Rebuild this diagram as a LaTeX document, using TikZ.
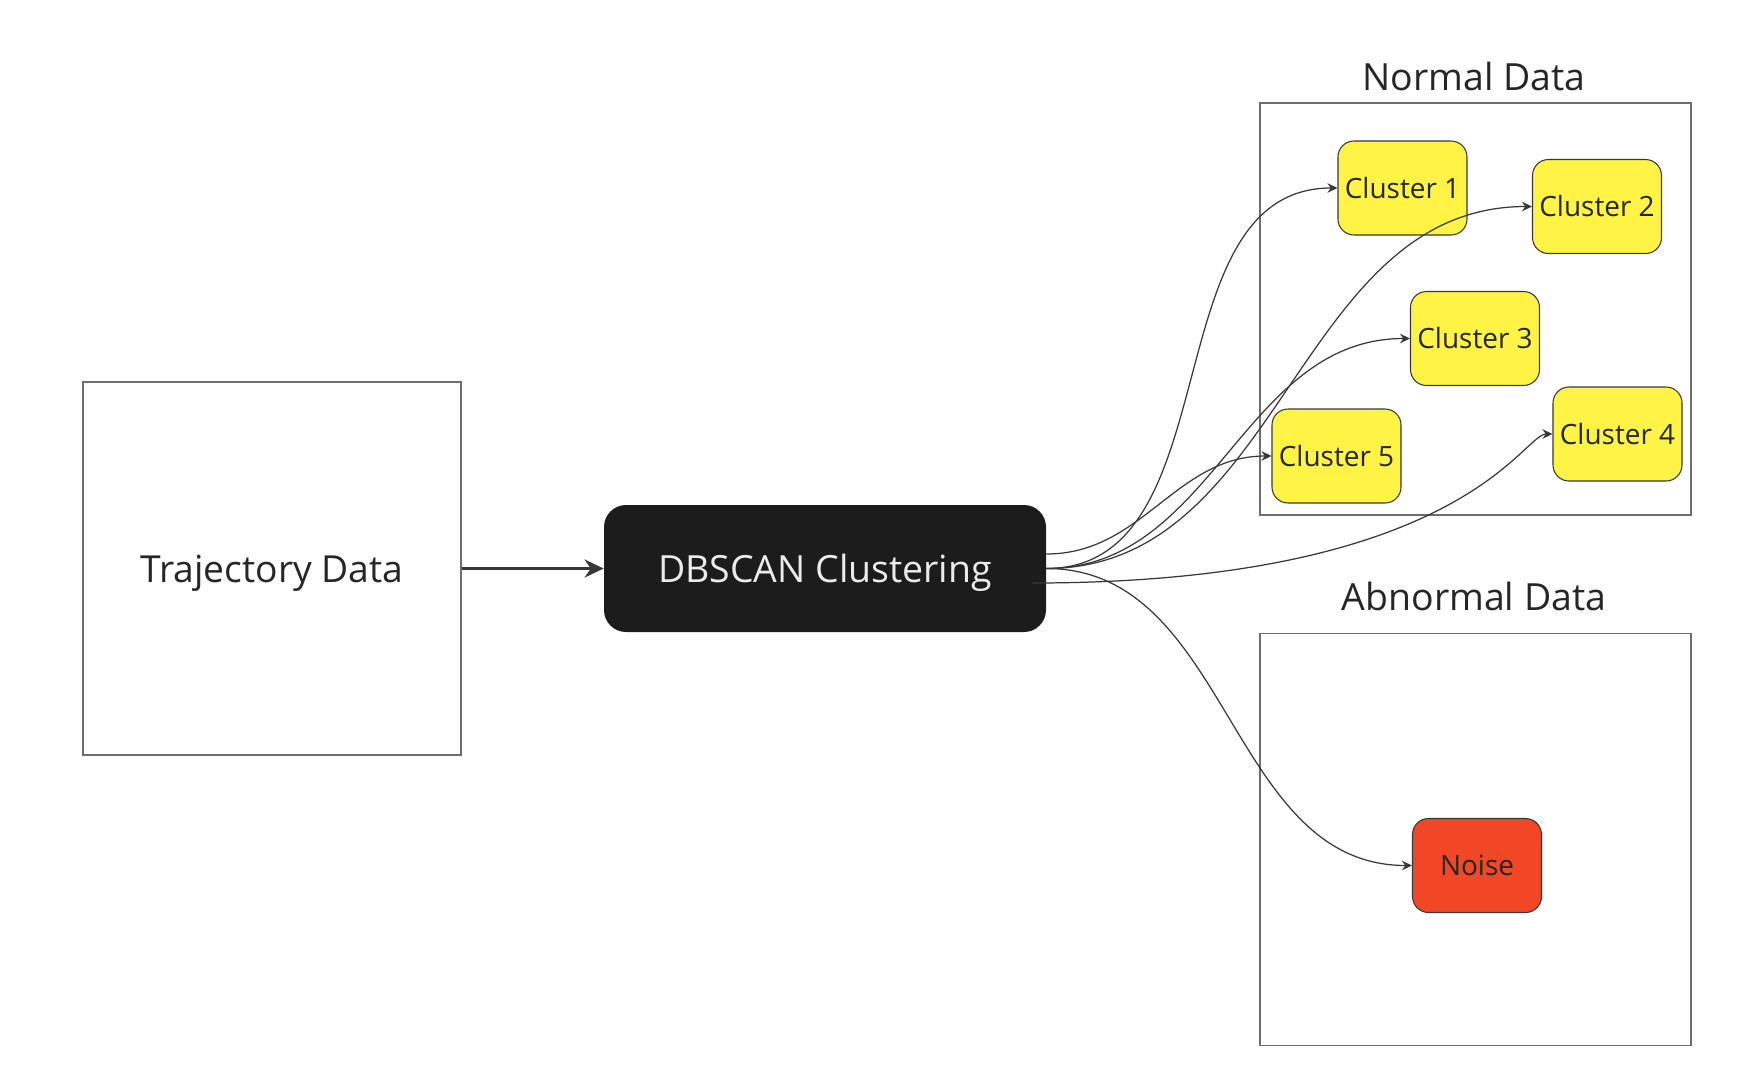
\documentclass[tikz,border=0pt]{standalone}
\usepackage{fontspec}
\setmainfont{Open Sans}
\usetikzlibrary{arrows.meta,positioning}
\definecolor{clusteryellow}{HTML}{FFF445}
\definecolor{noisered}{HTML}{F24726}
\definecolor{algodark}{HTML}{1C1C1C}
\definecolor{linedark}{HTML}{383838}
\definecolor{framegray}{HTML}{6E6E6E}
\begin{document}
\begin{tikzpicture}[
  databox/.style={draw=framegray, line width=0.7pt, minimum width=7.56cm, minimum height=7.46cm, text depth=0pt, font=\fontsize{21.2}{25}\selectfont, text=black!85},
  algobox/.style={fill=algodark, rounded corners=0.44cm, minimum width=8.84cm, minimum height=2.54cm, text depth=0pt, font=\fontsize{21.3}{25}\selectfont, text=black!8},
  groupbox/.style={draw=framegray, line width=0.8pt, minimum width=8.62cm, minimum height=8.24cm},
  grouplabel/.style={font=\fontsize{21.3}{25}\selectfont, text=black!85},
  cluster/.style={draw=linedark, line width=0.6pt, fill=clusteryellow, rounded corners=0.32cm, minimum width=2.58cm, minimum height=1.88cm, inner sep=1pt, font=\fontsize{15.9}{19}\selectfont, text=black!85},
  noisebox/.style={cluster, fill=noisered},
  link/.style={draw=linedark, line width=0.7pt, -{Stealth[length=2mm,width=1.9mm]}},
  mainarrow/.style={draw=linedark, line width=2.2pt, -{Stealth[length=3.8mm,width=3.6mm]}}
]
\useasboundingbox (0,0) rectangle (35.12,-21.78);

\node[databox] (traj) at (5.44,-11.37) {Trajectory Data};
\node[algobox] (dbscan) at (16.50,-11.37) {DBSCAN Clustering};
\draw[mainarrow] (traj.east) -- (dbscan.west);

% normal data
\node[groupbox] (normal) at (29.51,-6.18) {};
\node[grouplabel] (normallabel) at (29.48,-1.52) {Normal Data};
\node[cluster] (c1) at (28.05,-3.76) {Cluster 1};
\node[cluster] (c2) at (31.94,-4.13) {Cluster 2};
\node[cluster] (c3) at (29.50,-6.77) {Cluster 3};
\node[cluster] (c4) at (32.35,-8.68) {Cluster 4};
\node[cluster] (c5) at (26.73,-9.12) {Cluster 5};

% abnormal data
\node[groupbox] (abnormal) at (29.51,-16.79) {};
\node[grouplabel] (abnormallabel) at (29.48,-11.92) {Abnormal Data};
\node[noisebox] (noise) at (29.54,-17.31) {Noise};

\draw[link] (dbscan.east) to[out=0,in=180] (c1.west);
\draw[link] (dbscan.east) to[out=0,in=180] (c2.west);
\draw[link] (dbscan.east) to[out=0,in=180] (c3.west);
\draw[link] ([yshift=0.29cm]dbscan.east) to[out=0,in=180] (c5.west);
\draw[link] ([xshift=-0.28cm,yshift=-0.29cm]dbscan.east) .. controls +(8.6,0) and +(-0.6,0) .. (c4.west);
\draw[link] (dbscan.east) to[out=0,in=180] (noise.west);
\end{tikzpicture}
\end{document}
